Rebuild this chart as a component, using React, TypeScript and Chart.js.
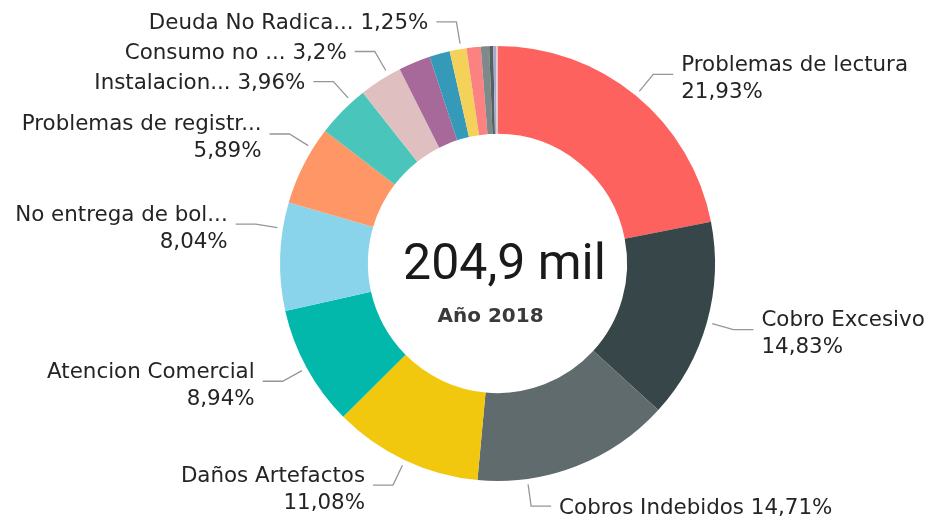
import React, { useEffect, useRef } from "react";
import { Chart, registerables } from "chart.js";

Chart.register(...registerables);

// ---- data ----
const categories = [
  "Problemas de lectura",
  "Cobro Excesivo",
  "Cobros Indebidos",
  "Daños Artefactos",
  "Atencion Comercial",
  "No entrega de bol...",
  "Problemas de registr...",
  "Instalacion...",
  "Consumo no ...",
  "Otros A",
  "Otros B",
  "Deuda No Radica...",
  "Otros C",
  "Otros D",
  "Otros E",
  "Otros F",
  "Otros G",
];
const shares = [21.93, 14.83, 14.71, 11.08, 8.94, 8.04, 5.89, 3.96, 3.2, 2.37, 1.52, 1.25, 1.05, 0.62, 0.3, 0.2, 0.11];
const totalLabel = "204,9 mil";
const subtitle = "Año 2018";

// ---- styling / layout ----
const colors = [
  "#FD625E", "#374649", "#5F6B6D", "#F2C80F", "#01B8AA", "#8AD4EB", "#FE9666", "#4AC5BB",
  "#DFBFBF", "#A66999", "#3599B8", "#F4D25A", "#FB8281", "#7F898A", "#55605F", "#A4A9D0", "#D6D6D6",
];
const showLabel = [true, true, true, true, true, true, true, true, true, false, false, true, false, false, false, false, false];
const twoLine = [true, true, false, true, true, true, true, false, false, false, false, false, false, false, false, false, false];
const labelShiftDeg = [0, 0, 13.3, 0, 0, 7.4, 5, 3.3, 2.4, 0, 0, 0.8, 0, 0, 0, 0, 0];

const fmtPct = (v: number) => String(v).replace(".", ",") + "%";

const labelPlugin = {
  id: "pbiLabels",
  afterDraw(chart: any) {
    const ctx = chart.ctx;
    const meta = chart.getDatasetMeta(0);
    ctx.save();
    meta.data.forEach((arc: any, i: number) => {
      if (!showLabel[i]) return;
      const p = arc.getProps(["x", "y", "startAngle", "endAngle", "outerRadius"], true);
      const R = p.outerRadius;
      const a = (p.startAngle + p.endAngle) / 2 + (labelShiftDeg[i] * Math.PI) / 180;
      const cos = Math.cos(a);
      const sin = Math.sin(a);
      const sx = p.x + (R + 5.5) * cos;
      const sy = p.y + (R + 5.5) * sin;
      const ex = p.x + (R + 27.5) * cos;
      const ey = p.y + (R + 27.5) * sin;
      const right = cos >= 0;
      const hx = ex + (right ? 20 : -20);
      ctx.beginPath();
      ctx.moveTo(sx, sy);
      ctx.lineTo(ex, ey);
      ctx.lineTo(hx, ey);
      ctx.strokeStyle = "#969696";
      ctx.lineWidth = 1.3;
      ctx.stroke();

      ctx.font = '21.4px "DejaVu Sans"';
      ctx.fillStyle = "#252423";
      ctx.textAlign = right ? "left" : "right";
      ctx.textBaseline = "alphabetic";
      const tx = hx + (right ? 8 : -8);
      const pct = fmtPct(shares[i]);
      if (twoLine[i]) {
        ctx.fillText(categories[i], tx, ey - 3.5);
        ctx.fillText(pct, tx, ey + 23.5);
      } else {
        ctx.fillText(categories[i] + " " + pct, tx, ey + 7.5);
      }
    });

    const a0 = meta.data[0];
    const c = a0.getProps(["x", "y"], true);
    ctx.textAlign = "center";
    ctx.textBaseline = "alphabetic";
    ctx.fillStyle = "#1a1a1a";
    ctx.font = '50px Roboto';
    ctx.fillText(totalLabel, c.x + 7, c.y + 15.5);
    ctx.fillStyle = "#3a3a3a";
    ctx.font = 'bold 20px "DejaVu Sans"';
    ctx.fillText(subtitle, c.x - 7, c.y + 58);
    ctx.restore();
  },
};

export default function App() {
  const ref = useRef<HTMLCanvasElement | null>(null);
  useEffect(() => {
    document.body.style.margin = "0";
    if (!ref.current) return;
    const chart = new Chart(ref.current, {
      type: "doughnut",
      data: {
        labels: categories,
        datasets: [
          {
            data: shares,
            backgroundColor: colors,
            borderWidth: 0,
            hoverOffset: 0,
            offset: 0,
          },
        ],
      },
      options: {
        responsive: false,
        animation: false,
        events: [],
        cutout: "59.6%",
        layout: { padding: { left: 280, right: 217, top: 46, bottom: 39 } },
        plugins: {
          legend: { display: false },
          tooltip: { enabled: false },
        },
      },
      plugins: [labelPlugin],
    });
    return () => chart.destroy();
  }, []);
  return (
    <div style={{ width: 932, height: 520, background: "#fff" }}>
      <canvas ref={ref} width={932} height={520} style={{ display: "block" }} />
    </div>
  );
}
